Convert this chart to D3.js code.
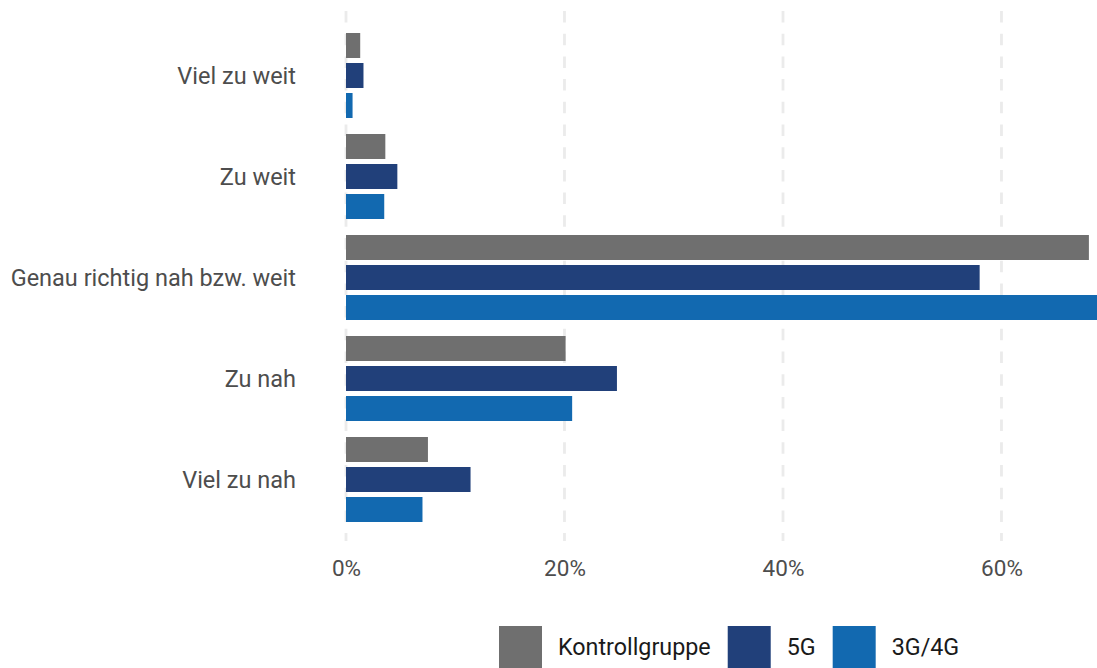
<!DOCTYPE html>
<html>
<head>
<meta charset="utf-8">
<script src="https://cdn.jsdelivr.net/npm/d3@7"></script>
<style>
  html, body { margin: 0; padding: 0; background: #fff; }
  svg { display: block; font-family: Roboto, "Noto Sans", sans-serif; }
</style>
</head>
<body>
<svg id="chart" width="1097" height="668"></svg>
<script>
const categories = ["Viel zu weit", "Zu weit", "Genau richtig nah bzw. weit", "Zu nah", "Viel zu nah"];
const seriesNames = ["Kontrollgruppe", "5G", "3G/4G"];
const kontrollgruppe = [1.3, 3.6, 68.0, 20.1, 7.5];
const g5 = [1.6, 4.7, 58.0, 24.8, 11.4];
const g34 = [0.6, 3.5, 69.0, 20.7, 7.0];
const xTicks = [0, 20, 40, 60];
const colors = ["#6f6f6f", "#21407a", "#1269b0"];

const seriesValues = [kontrollgruppe, g5, g34];
const svg = d3.select("#chart");

const x = d3.scaleLinear().domain([0, 60]).range([346, 1001.5]);
const y = d3.scaleBand().domain(categories).range([25, 530]).paddingInner(16 / 101).paddingOuter(8 / 101);
const yInner = d3.scaleBand().domain(seriesNames).range([0, y.bandwidth()]).paddingInner(5 / 30);

// gridlines
svg.append("g").selectAll("line").data(xTicks).join("line")
  .attr("x1", d => x(d)).attr("x2", d => x(d))
  .attr("y1", 11).attr("y2", 541)
  .attr("stroke", "#ebebeb").attr("stroke-width", 2.8)
  .attr("stroke-dasharray", "11.5,11.2");

// bars
const rows = [];
categories.forEach((c, i) => seriesNames.forEach((s, j) => rows.push({ c, s, v: seriesValues[j][i], color: colors[j] })));
svg.append("g").selectAll("rect").data(rows).join("rect")
  .attr("x", x(0))
  .attr("y", d => y(d.c) + yInner(d.s))
  .attr("width", d => x(d.v) - x(0))
  .attr("height", yInner.bandwidth())
  .attr("fill", d => d.color);

// x axis labels
const xAxis = d3.axisBottom(x).tickValues(xTicks).tickFormat(d => d + "%").tickSize(0).tickPadding(0);
const gx = svg.append("g").attr("transform", "translate(0,576)").call(xAxis);
gx.select(".domain").remove();
gx.selectAll("text").attr("dy", 0).attr("y", 0)
  .attr("font-size", 22.5).attr("fill", "#4d4d4d").attr("font-family", "Roboto");

// y axis labels
const yAxis = d3.axisLeft(y).tickSize(0).tickPadding(0);
const gy = svg.append("g").attr("transform", "translate(296,0)").call(yAxis);
gy.select(".domain").remove();
gy.selectAll("text").attr("dy", "0.36em").attr("x", 0)
  .attr("font-size", 23.5).attr("fill", "#4d4d4d").attr("font-family", "Roboto");

// legend
const legend = svg.append("g");
let cx = 499;
seriesNames.forEach((s, j) => {
  legend.append("rect").attr("x", cx).attr("y", 626).attr("width", 43).attr("height", 43).attr("fill", colors[j]);
  const t = legend.append("text").attr("x", cx + 59).attr("y", 655)
    .attr("font-size", 23.3).attr("fill", "#1a1a1a").attr("font-family", "Roboto").text(s);
  cx = cx + 59 + t.node().getComputedTextLength() + 17;
});
</script>
</body>
</html>
